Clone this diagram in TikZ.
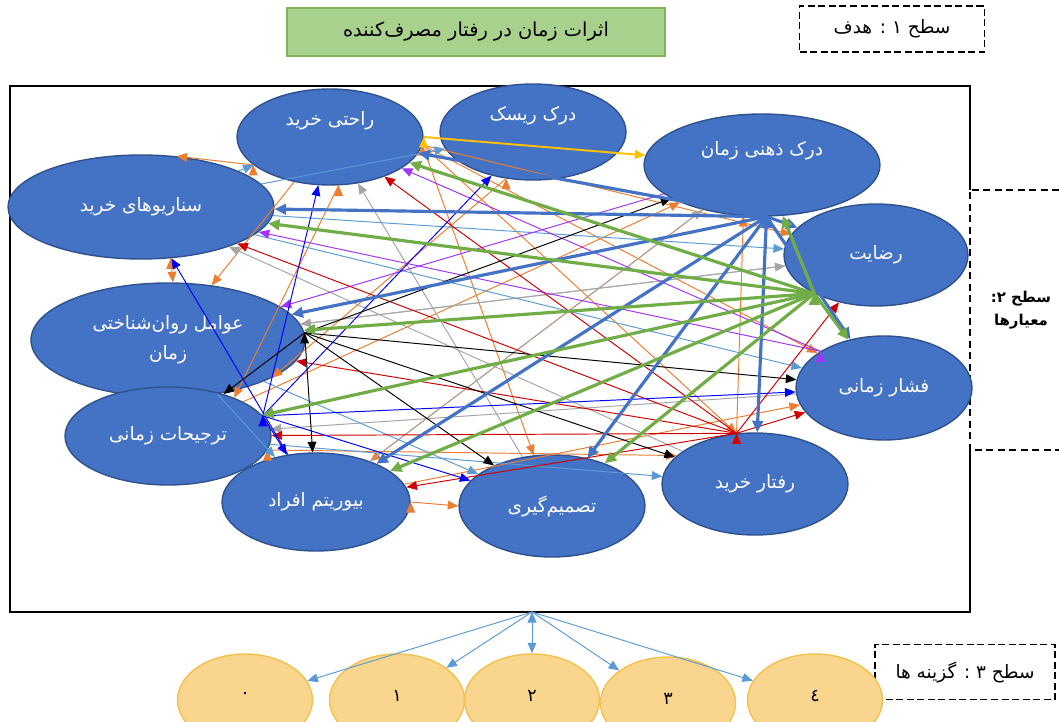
\documentclass[tikz,border=0pt]{standalone}
\usepackage{fontspec}
\newfontfamily\farsi[Script=Arabic]{DejaVu Sans}
\TeXXeTstate=1
\newcommand{\fa}[1]{{\beginR #1\endR}}
\definecolor{nodeblue}{HTML}{4472C4}
\definecolor{nodeborder}{HTML}{2F528F}
\definecolor{titlegreen}{HTML}{A9D18E}
\definecolor{titleborder}{HTML}{7EB35A}
\definecolor{optfill}{HTML}{FAD58E}
\definecolor{optborder}{HTML}{F2C14E}
\definecolor{linkorange}{HTML}{ED7D31}
\definecolor{linkblue}{HTML}{4472C4}
\definecolor{linkgreen}{HTML}{70AD47}
\definecolor{linksky}{HTML}{5B9BD5}
\definecolor{linkgray}{HTML}{A5A5A5}
\definecolor{linkred}{HTML}{D00000}
\definecolor{linkpurple}{HTML}{A033FF}
\definecolor{linkyellow}{HTML}{FFC000}
\definecolor{pureblue}{HTML}{0000FF}
\usetikzlibrary{shapes.geometric, arrows.meta}
\tikzset{
	critnode/.style={
			ellipse,
			draw=nodeborder,
			fill=nodeblue,
			thick,
			text=white,
			align=center,
			inner sep=0pt,
			font=\farsi\fontsize{10.5}{17}\selectfont
		},
	optnode/.style={
			ellipse,
			draw=optborder,
			fill=optfill,
			thick,
			minimum width=2.7cm,
			minimum height=1.84cm,
			inner sep=0pt,
			font=\farsi\fontsize{10}{12}\selectfont
		},
	levelnode/.style={
			draw=black,
			line width=1.1pt,
			dash pattern=on 4pt off 2pt,
			inner sep=0pt,
			font=\farsi\fontsize{10.5}{12}\selectfont
		},
	thinlink/.style={
			line width=0.55pt,
			-{Triangle[length=6pt,width=5pt]}
		},
	thicklink/.style={
			line width=1.8pt,
			-{Triangle[length=6.5pt,width=6pt]}
		}
}

\begin{document}
\begin{tikzpicture}[x=0.02cm, y=-0.02cm]
\clip (0,0) rectangle (1059,722);

% levels
\node[draw=titleborder, fill=titlegreen, thick, minimum width=7.56cm, minimum height=0.96cm, font=\farsi\fontsize{11}{12}\selectfont] (goal) at (476,32) {\fa{اثرات زمان در رفتار مصرف‌کننده}};
\node[levelnode, minimum width=3.7cm, minimum height=0.92cm] (level1) at (892,29) {\fa{سطح ۱ : هدف}};
\node[levelnode, minimum width=3.6cm, minimum height=1.1cm] (level3) at (965,672) {\fa{سطح ۳ : گزینه ها}};
\node[font=\farsi\bfseries\fontsize{8.5}{13}\selectfont, align=center] (level2) at (1021,310) {\fa{سطح ۲:}\\\fa{معیارها}};

\draw[line width=1.2pt] (970,190) -- (970,86) -- (10,86) -- (10,612) -- (970,612) -- (970,450);
\draw[line width=1.1pt, dash pattern=on 4pt off 2.5pt] (1059,190) -- (970,190) -- (970,450) -- (1059,450);

% criteria
\node[critnode, minimum width=3.72cm, minimum height=1.92cm] (rahati) at (330,137) {\fa{راحتی خرید}\\[4pt]};
\node[critnode, minimum width=3.72cm, minimum height=1.92cm] (risk) at (533,132) {\fa{درک ریسک}\\[4pt]};
\node[critnode, minimum width=4.72cm, minimum height=2.04cm] (zehni) at (762,165) {\fa{درک ذهنی زمان}\\[2pt]};
\node[critnode, minimum width=3.68cm, minimum height=2.04cm] (rezayat) at (876,255) {\fa{رضایت}};
\node[critnode, minimum width=3.52cm, minimum height=2.08cm] (feshar) at (884,388) {\fa{فشار زمانی}};
\node[critnode, minimum width=5.32cm, minimum height=2.08cm] (senario) at (141,207) {\fa{سناریوهای خرید}};
\node[critnode, minimum width=5.48cm, minimum height=2.28cm] (ravan) at (168,340) {\fa{عوامل روان‌شناختی}\\\fa{زمان}};
\node[critnode, minimum width=4.12cm, minimum height=1.96cm] (tarjih) at (168,436) {\fa{ترجیحات زمانی}};
\node[critnode, minimum width=3.76cm, minimum height=1.96cm] (biorhythm) at (316,502) {\fa{بیوریتم افراد}};
\node[critnode, minimum width=3.72cm, minimum height=2.04cm] (tasmim) at (552,506) {\fa{تصمیم‌گیری}};
\node[critnode, minimum width=3.72cm, minimum height=2.04cm] (raftar) at (755,484) {\fa{رفتار خرید}};

\coordinate (hubG) at (rezayat.212);
\coordinate (hubB) at (zehni.-85);
\coordinate (hubK) at (ravan.3);
\coordinate (hubR) at (raftar.110);
\coordinate (hubO) at (rahati.-5);
\coordinate (hubT) at (tarjih.12);
\coordinate (hubP) at (feshar.150);

\draw[thinlink, linkorange] (rahati.200) edge (senario.55);
\draw[thinlink, linkorange] (senario.-60) edge (ravan.85);
\draw[thinlink, linkorange] (rahati) edge (ravan);
\draw[thinlink, linkorange] (rahati.-80) edge (tarjih.30);
\draw[thinlink, linkorange] (hubO) edge (rezayat) edge (feshar) edge (hubR) edge (tasmim);
\draw[thinlink, linkorange] (risk.-120) edge (ravan.-20);
\draw[thinlink, linkorange] (zehni) edge (biorhythm);
\draw[thinlink, linkorange] (biorhythm.east) edge (tasmim.west);
\draw[thinlink, linkorange] (hubR) edge (zehni.-110);
\draw[thinlink, linkorange] (tarjih) edge (zehni);
\draw[thinlink, linkorange] (tarjih.-8) edge (raftar.160);
\draw[thinlink, linkorange] (biorhythm) edge (feshar);

\draw[thinlink, linkgray] (tasmim) edge (rahati);
\draw[thinlink, linkgray] (raftar) edge (senario);
\draw[thinlink, linkgray] (rezayat) edge (ravan);
\draw[thinlink, linkgray] (feshar) edge (tarjih);
\draw[thinlink, linkgray] (biorhythm) edge (zehni);
\draw[thinlink, linkgray] (ravan) edge (rezayat);

\draw[thinlink, linksky] (senario) edge (rahati) edge (risk) edge (rezayat) edge (feshar);
\draw[thinlink, linksky] (ravan) edge (tasmim) edge (biorhythm);
\draw[thinlink, linksky] (tarjih) edge (raftar);

\draw[thinlink, linkpurple] (hubP) edge (rahati) edge (senario);
\draw[thinlink, linkpurple] (zehni) edge (ravan);

\draw[thinlink, linkred] (hubR) edge (rahati) edge (senario) edge (ravan) edge (tarjih) edge (biorhythm) edge (rezayat) edge (feshar);

\draw[thinlink, pureblue] (hubT) edge (rahati) edge (risk) edge (biorhythm) edge (tasmim) edge (feshar);
\draw[thinlink, pureblue] (biorhythm) edge (senario);

\draw[thinlink, black] (hubK) edge (zehni) edge (tarjih) edge (biorhythm) edge (tasmim) edge (raftar) edge (feshar);

\draw[thicklink, linkblue] (hubB) edge (rahati) edge (senario) edge (ravan) edge (biorhythm) edge (tasmim) edge (raftar) edge (rezayat) edge (feshar);

\draw[thicklink, linkgreen] (hubG) edge (zehni) edge (rahati) edge (senario) edge (ravan) edge (tarjih) edge (biorhythm) edge (tasmim) edge (feshar);

\draw[thinlink, linkyellow, line width=1.1pt] (rahati.east) edge (zehni);

% options
\node[optnode] (opt0) at (245,700) {\raisebox{5pt}{۰}};
\node[optnode] (opt1) at (397,700) {\raisebox{5pt}{۱}};
\node[optnode] (opt2) at (532,700) {\raisebox{5pt}{۲}};
\node[optnode] (opt3) at (668,703) {\raisebox{5pt}{۳}};
\node[optnode] (opt4) at (815,700) {\raisebox{5pt}{٤}};

\coordinate (optsrc) at (532,612);
\draw[thinlink, linksky] (optsrc) edge (opt0) edge (opt1) edge (opt2) edge (opt3) edge (opt4);

\end{tikzpicture}
\end{document}
